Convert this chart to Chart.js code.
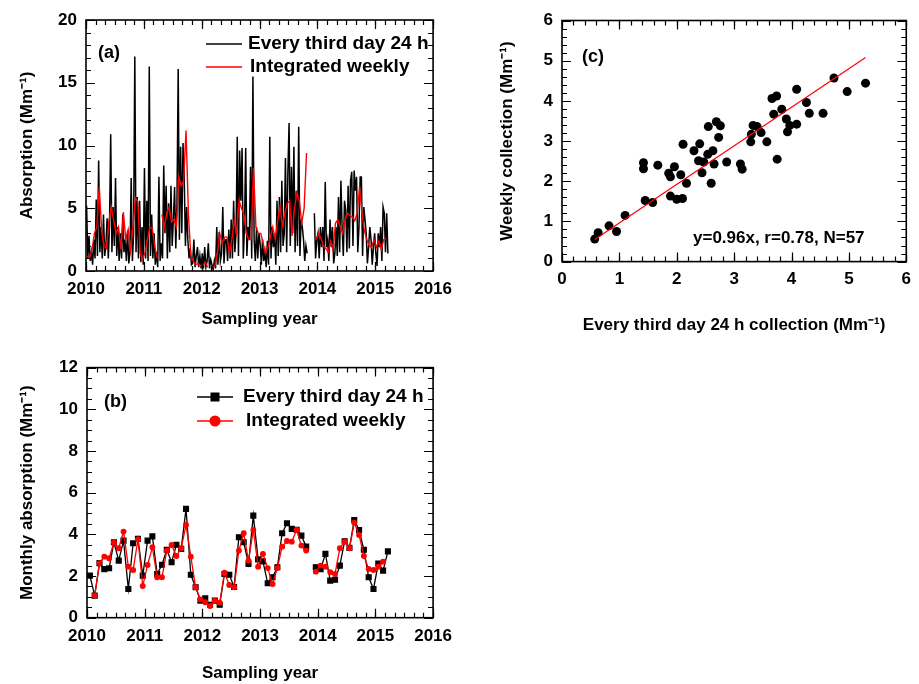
<!DOCTYPE html>
<html>
<head>
<meta charset="utf-8">
<script src="https://cdn.jsdelivr.net/npm/chart.js@4.4.0/dist/chart.umd.min.js"></script>
<style>
  body { margin: 0; background: #fff; }
  #wrap { position: relative; width: 919px; height: 684px; overflow: hidden; }
  canvas { position: absolute; }
</style>
</head>
<body>
<div id="wrap">
  <canvas id="chartA" width="460" height="345" style="left:0;top:0"></canvas>
  <canvas id="chartB" width="460" height="339" style="left:0;top:345px"></canvas>
  <canvas id="chartC" width="459" height="345" style="left:460px;top:0"></canvas>
</div>
<script>
// ---- data ----
const yearTicks = ['2010', '2011', '2012', '2013', '2014', '2015', '2016'];
const firstYear = 2010;

// (a) every third day 24 h absorption, four readings per month, Jan 2010 .. Mar 2015
const dailyAbs = [
  [5.2,1.0,2.8,0.8],[1.5,0.5,2.5,1.0],[5.7,1.2,8.8,1.5],[3.5,1.0,4.5,1.2],
  [2.0,4.2,1.0,3.6],[10.9,1.5,5.1,2.0],[7.4,1.2,3.5,0.8],[3.0,1.0,4.5,1.5],
  [2.5,0.8,3.2,0.6],[1.5,7.4,0.8,3.0],[17.1,1.5,5.9,1.0],[5.6,0.7,3.5,0.5],
  [8.2,1.0,5.6,0.8],[16.3,1.2,4.5,1.0],[3.0,0.5,1.5,0.3],[7.5,0.8,2.2,1.0],
  [8.4,3.0,6.8,1.0],[5.4,1.5,6.8,2.0],[4.1,6.7,1.8,5.6],[16.1,2.5,9.9,3.0],
  [10.2,7.5,2.0,5.1],[2.5,1.0,1.8,0.5],[0.6,2.5,0.3,1.2],[1.9,0.3,1.2,0.2],
  [1.4,0.2,1.9,0.3],[0.8,2.2,0.2,0.9],[0.5,0.1,0.8,0.2],[3.5,0.5,3.1,0.8],
  [1.4,5.1,0.6,2.5],[2.5,0.8,3.3,1.0],[4.1,1.0,5.6,1.5],[3.0,10.7,1.2,9.6],
  [5.6,9.8,1.0,3.5],[9.8,1.2,3.5,2.5],[8.3,1.0,15.5,2.5],[0.8,3.5,1.0,3.0],
  [2.2,0.5,2.5,0.8],[1.5,0.3,2.4,0.5],[10.7,1.0,3.5,1.9],[3.0,0.5,5.6,1.2],
  [5.9,1.5,7.2,2.0],[3.0,9.0,1.5,7.8],[11.8,2.0,8.3,3.0],[9.9,1.5,6.4,2.0],
  [11.5,1.2,4.1,3.5],[2.5,0.8,2.0,1.4],[null,null,null,null],[null,4.6,1.0,2.5],
  [3.0,1.0,3.5,1.9],[3.5,0.8,7.1,1.9],[2.5,0.8,4.1,1.9],[3.5,0.6,1.4,3.5],
  [1.2,5.9,1.5,7.2],[3.5,1.2,5.6,4.9],[1.5,6.8,1.8,7.2],[7.9,2.0,8.0,6.4],
  [7.5,1.5,3.5,7.5],[7.5,1.2,5.1,4.1],[3.0,0.6,1.9,3.5],[2.5,0.5,1.9,3.0],
  [1.4,0.4,3.0,1.9],[3.5,0.8,5.1,4.6],[1.5,4.6,1.4,null]
];
// (a) integrated weekly absorption, two readings per month
const weeklyAbs = [
  [1.2,1.0],[1.7,3.0],[3.5,6.7],[3.2,2.0],[1.8,4.0],[5.1,4.0],[3.0,3.5],[1.7,4.7],
  [2.5,3.3],[1.7,3.5],[5.8,5.5],[1.4,0.9],[1.5,2.5],[3.5,3.4],[2.0,1.0],[null,4.5],
  [3.5,4.6],[5.1,3.9],[4.1,3.5],[7.5,6.8],[7.2,11.2],[4.5,1.2],[0.8,0.5],[0.6,0.4],
  [0.5,0.7],[0.3,null],[0.3,0.4],[1.4,3.0],[2.2,2.7],[2.7,1.4],[2.5,4.0],[3.0,5.6],
  [5.0,4.5],[3.0,2.5],[2.5,8.2],[3.5,3.0],[3.0,2.2],[1.4,1.9],[2.7,3.5],[2.5,4.0],
  [5.1,3.6],[4.6,5.4],[5.6,2.8],[5.0,6.2],[5.6,3.8],[5.0,9.4],[null,null],[null,2.5],
  [3.0,2.6],[2.0,1.8],[1.5,2.4],[1.7,3.8],[4.1,3.5],[3.0,4.1],[4.6,4.4],[4.3,4.0],
  [4.6,6.7],[4.6,3.2],[2.5,2.0],[1.9,2.5],[1.9,2.4],[1.7,2.5],[2.6,null]
];

// (b) monthly means, Jan 2010 .. Mar 2015
const monthlyDaily = [2.02,1.06,2.62,2.33,2.37,3.62,2.74,3.70,1.38,3.57,3.78,2.02,3.70,3.90,2.10,2.54,
  3.26,2.66,3.50,3.30,5.22,2.06,1.46,0.82,0.93,0.62,0.82,0.62,2.10,2.06,1.47,3.86,3.62,2.58,4.90,2.80,
  2.70,1.65,1.94,2.42,4.05,4.53,4.26,4.22,3.94,3.41,null,2.42,2.33,3.06,1.78,1.82,2.50,3.67,3.35,4.69,
  4.21,3.26,1.94,1.38,2.60,2.26,3.18];
const monthlyWeekly = [null,1.06,2.62,2.93,2.85,3.62,3.33,4.13,2.45,2.29,3.75,1.52,2.53,3.38,1.94,1.94,
  3.22,3.49,2.96,3.33,4.45,2.93,1.46,0.88,0.74,0.56,0.82,0.72,2.16,1.57,1.46,3.22,4.05,2.74,4.21,2.45,
  3.06,2.38,1.62,2.38,3.41,3.68,3.65,4.21,3.46,3.22,null,2.21,2.50,2.45,2.18,2.10,3.33,3.65,3.33,4.56,
  3.97,2.96,2.34,2.29,2.45,2.69,null];

// (c) weekly collection vs every third day collection
const scatterX = [0.57,0.63,0.82,0.95,1.10,1.42,1.42,1.45,1.58,1.67,1.86,1.89,1.96,1.89,2.00,2.10,2.07,2.17,2.11,
  2.30,2.40,2.38,2.47,2.44,2.54,2.63,2.65,2.60,2.55,2.69,2.76,2.73,2.87,3.11,3.14,3.29,3.30,3.33,3.40,3.47,
  3.57,3.66,3.74,3.69,3.83,3.75,3.93,3.97,4.09,4.09,4.26,4.31,4.55,4.74,4.97,5.29,3.91];
const scatterY = [0.56,0.72,0.89,0.75,1.15,2.46,2.31,1.52,1.47,2.40,2.20,2.11,2.36,1.63,1.55,1.57,2.16,1.95,2.92,
  2.76,2.93,2.51,2.48,2.21,2.67,2.76,2.43,1.95,3.36,3.48,3.38,3.09,2.48,2.43,2.30,2.98,3.17,3.39,3.36,3.21,
  2.98,4.06,4.12,3.67,3.79,2.55,3.23,3.39,3.42,4.29,3.96,3.69,3.69,4.57,4.23,4.44,3.55];
const fitX = [0.57, 5.29];
const fitY = [0.55, 5.08];

// ---- helpers ----
const FONT = '"Liberation Sans", Arial, Helvetica, sans-serif';
const bold = size => ({ family: FONT, size: size, weight: 'bold' });

function monthPoints(rows) {
  return rows.flatMap((row, m) => row.map((v, k) => ({
    x: firstYear + (m + (k + 0.5) / row.length) / 12,
    y: v
  })));
}

function monthlyPoints(values) {
  return values.map((v, m) => ({ x: firstYear + (m + 0.6) / 12, y: v }));
}

// box with inward ticks on all four sides, plus legend and labels
const framePlugin = {
  id: 'frame',
  afterDatasetsDraw(chart, args, opts) {
    const { ctx, chartArea: area, scales } = chart;
    ctx.save();
    ctx.strokeStyle = '#000';
    ctx.lineWidth = 1.2;
    const marks = (scale, step, len) => {
      const n = Math.round((scale.max - scale.min) / step);
      for (let i = 0; i <= n; i++) {
        const p = Math.round(scale.getPixelForValue(scale.min + i * step)) + 0.5;
        ctx.beginPath();
        if (scale.isHorizontal()) {
          ctx.moveTo(p, area.bottom); ctx.lineTo(p, area.bottom - len);
          ctx.moveTo(p, area.top); ctx.lineTo(p, area.top + len);
        } else {
          ctx.moveTo(area.left, p); ctx.lineTo(area.left + len, p);
          ctx.moveTo(area.right, p); ctx.lineTo(area.right - len, p);
        }
        ctx.stroke();
      }
    };
    marks(scales.x, opts.xMinor, 5);
    marks(scales.x, opts.xMajor, 9);
    marks(scales.y, opts.yMinor, 5);
    marks(scales.y, opts.yMajor, 9);
    ctx.lineWidth = 1.6;
    ctx.strokeRect(area.left, area.top, area.right - area.left, area.bottom - area.top);

    ctx.fillStyle = '#000';
    ctx.textBaseline = 'middle';
    ctx.textAlign = 'left';
    (opts.notes || []).forEach(n => {
      ctx.font = `bold ${n.size}px ${FONT}`;
      ctx.fillText(n.text, n.x, n.y);
    });

    (opts.legend || []).forEach(item => {
      const ds = chart.data.datasets[item.dataset];
      ctx.strokeStyle = ds.borderColor;
      ctx.lineWidth = 1.5;
      ctx.beginPath();
      ctx.moveTo(item.x, item.y);
      ctx.lineTo(item.x + 36, item.y);
      ctx.stroke();
      if (item.marker === 'rect') {
        ctx.fillStyle = ds.borderColor;
        ctx.fillRect(item.x + 18 - 4.5, item.y - 4.5, 9, 9);
      } else if (item.marker === 'circle') {
        ctx.fillStyle = ds.borderColor;
        ctx.beginPath();
        ctx.arc(item.x + 18, item.y, 5.5, 0, Math.PI * 2);
        ctx.fill();
      }
      ctx.fillStyle = '#000';
      ctx.font = `bold 19px ${FONT}`;
      ctx.fillText(ds.label, item.x + item.gap, item.y);
    });
    ctx.restore();
  }
};

function frameScales(opt) {
  return {
    x: {
      type: 'linear', min: opt.xMin, max: opt.xMax,
      grid: { display: false, drawTicks: false },
      border: { display: false },
      ticks: {
        stepSize: opt.xStep, color: '#000', font: bold(17), padding: 8,
        maxRotation: 0, autoSkip: false,
        callback: opt.xLabel
      },
      title: { display: true, text: opt.xTitle, color: '#000', font: bold(17), padding: { top: 0, bottom: opt.xTitlePad } },
      afterFit: s => { s.height = opt.xHeight; }
    },
    y: {
      type: 'linear', min: opt.yMin, max: opt.yMax,
      grid: { display: false, drawTicks: false },
      border: { display: false },
      ticks: { stepSize: opt.yStep, color: '#000', font: bold(17), padding: 9 },
      title: { display: true, text: opt.yTitle, color: '#000', font: bold(17), padding: { top: opt.yTitlePad, bottom: 0 } },
      afterFit: s => { s.width = opt.yWidth; }
    }
  };
}

const yearLabel = v => yearTicks[Math.round(v - firstYear)];

// ---- (a) ----
new Chart(document.getElementById('chartA'), {
  type: 'line',
  data: {
    datasets: [
      { label: 'Every third day 24 h', data: monthPoints(dailyAbs), borderColor: '#000', borderWidth: 1.5,
        pointRadius: 0, tension: 0, order: 2 },
      { label: 'Integrated weekly', data: monthPoints(weeklyAbs), borderColor: '#ff0000', borderWidth: 1.4,
        pointRadius: 0, tension: 0, order: 1 }
    ]
  },
  options: {
    responsive: false, animation: false,
    layout: { padding: { left: 0, right: 23, top: 20, bottom: 0 } },
    scales: frameScales({
      xMin: 2010, xMax: 2016, xStep: 1, xLabel: yearLabel, xTitle: 'Sampling year', xTitlePad: 15, xHeight: 74,
      yMin: 0, yMax: 20, yStep: 5, yTitle: 'Absorption (Mm\u207B\u00B9)', yTitlePad: 17, yWidth: 86
    }),
    plugins: {
      legend: { display: false }, tooltip: { enabled: false },
      frame: {
        xMajor: 1, xMinor: 1 / 6, yMajor: 5, yMinor: 1,
        notes: [{ text: '(a)', x: 98, y: 53, size: 18 }],
        legend: [
          { dataset: 0, x: 206, y: 44, gap: 42 },
          { dataset: 1, x: 206, y: 67, gap: 44 }
        ]
      }
    }
  },
  plugins: [framePlugin]
});

// ---- (b) ----
new Chart(document.getElementById('chartB'), {
  type: 'line',
  data: {
    datasets: [
      { label: 'Every third day 24 h', data: monthlyPoints(monthlyDaily), borderColor: '#000', backgroundColor: '#000',
        borderWidth: 1.3, pointStyle: 'rect', pointRadius: 3.4, tension: 0, order: 2 },
      { label: 'Integrated weekly', data: monthlyPoints(monthlyWeekly), borderColor: '#ff0000', backgroundColor: '#ff0000',
        borderWidth: 1.3, pointStyle: 'circle', pointRadius: 2.3, tension: 0, order: 1 }
    ]
  },
  options: {
    responsive: false, animation: false,
    layout: { padding: { left: 0, right: 25, top: 22.6, bottom: 0 } },
    scales: frameScales({
      xMin: 2010, xMax: 2016, xStep: 1, xLabel: yearLabel, xTitle: 'Sampling year', xTitlePad: 0, xHeight: 66.3,
      yMin: 0, yMax: 12, yStep: 2, yTitle: 'Monthly absorption (Mm\u207B\u00B9)', yTitlePad: 17, yWidth: 87
    }),
    plugins: {
      legend: { display: false }, tooltip: { enabled: false },
      frame: {
        xMajor: 1, xMinor: 1 / 6, yMajor: 2, yMinor: 0.5,
        notes: [{ text: '(b)', x: 104, y: 57, size: 18 }],
        legend: [
          { dataset: 0, x: 197, y: 52, gap: 46, marker: 'rect' },
          { dataset: 1, x: 197, y: 76, gap: 49, marker: 'circle' }
        ]
      }
    }
  },
  plugins: [framePlugin]
});

// ---- (c) ----
new Chart(document.getElementById('chartC'), {
  type: 'scatter',
  data: {
    datasets: [
      { label: 'Weekly vs every third day', data: scatterX.map((x, i) => ({ x: x, y: scatterY[i] })),
        backgroundColor: '#000', borderColor: '#000', pointRadius: 4.5, borderWidth: 0, order: 2 },
      { label: 'Fit', type: 'line', data: fitX.map((x, i) => ({ x: x, y: fitY[i] })),
        borderColor: '#ff0000', borderWidth: 1.2, pointRadius: 0, order: 1 }
    ]
  },
  options: {
    responsive: false, animation: false,
    layout: { padding: { left: 0, right: 7, top: 20.5, bottom: 0 } },
    scales: frameScales({
      xMin: 0, xMax: 6, xStep: 1, xLabel: v => String(v), xTitle: 'Every third day 24 h collection (Mm\u207B\u00B9)',
      xTitlePad: 9, xHeight: 83.4,
      yMin: 0, yMax: 6, yStep: 1, yTitle: 'Weekly collection (Mm\u207B\u00B9)', yTitlePad: 37, yWidth: 102
    }),
    plugins: {
      legend: { display: false }, tooltip: { enabled: false },
      frame: {
        xMajor: 1, xMinor: 0.2, yMajor: 1, yMinor: 0.2,
        notes: [
          { text: '(c)', x: 122, y: 57, size: 18 },
          { text: 'y=0.96x, r=0.78, N=57', x: 233, y: 238, size: 17 }
        ]
      }
    }
  },
  plugins: [framePlugin]
});
</script>
</body>
</html>
